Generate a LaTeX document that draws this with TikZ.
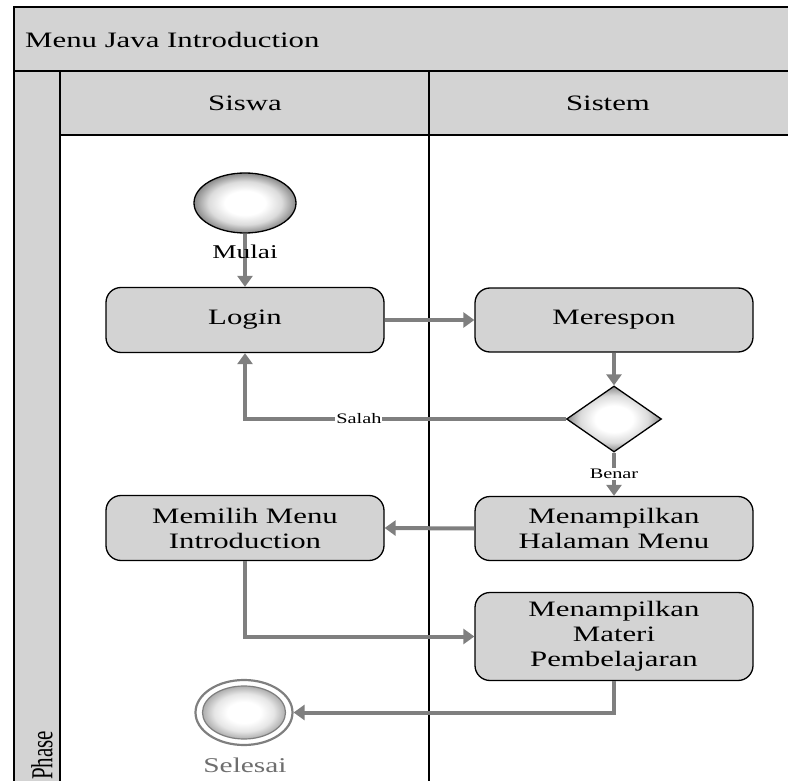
\documentclass[tikz,border=0pt]{standalone}
\usepackage{fontspec}
\setmainfont{Liberation Serif}[FakeStretch=1.4]
\newfontfamily\phasefont{Liberation Serif}
\usetikzlibrary{shapes.geometric,arrows.meta}
\definecolor{lanegray}{HTML}{D3D3D3}
\definecolor{flowgray}{HTML}{7F7F7F}
\definecolor{endtext}{HTML}{6E6E6E}
% soft ball fills: white core fading to grey at the rim
\pgfdeclareradialshading{ballshade}{\pgfpoint{0bp}{0bp}}{%
  color(0bp)=(white); color(10bp)=(white); color(18bp)=(black!14);
  color(25bp)=(black!46); color(50bp)=(black!46)}
\pgfdeclareradialshading{endshade}{\pgfpoint{0bp}{0bp}}{%
  color(0bp)=(white); color(10bp)=(white); color(18bp)=(black!10);
  color(25bp)=(black!32); color(50bp)=(black!32)}
\tikzset{
  lane/.style={draw=black,line width=1.4pt},
  hdr/.style={font=\fontsize{22}{25}\selectfont,inner sep=0pt},
  actbox/.style={rectangle,rounded corners=15pt,draw=black,line width=1.3pt,
    fill=lanegray,minimum width=278pt,align=center,inner sep=0pt,
    font=\fontsize{22}{25}\selectfont},
  flow/.style={draw=flowgray,line width=4pt,-{Triangle[length=11pt,width=15pt]}},
  lbl/.style={font=\fontsize{14.5}{16}\selectfont,fill=white,inner sep=1pt},
  startnode/.style={ellipse,draw=black,line width=1.3pt,shading=ballshade,
    minimum width=102pt,minimum height=60pt},
  decision/.style={diamond,draw=black,line width=1.3pt,shading=ballshade,
    minimum width=95pt,minimum height=66pt,inner sep=0pt},
}
\begin{document}
\begin{tikzpicture}[x=1pt,y=-1pt]
  \useasboundingbox (0,0) rectangle (788,781);
  \clip (0,0) rectangle (788,781);

  % swimlane frame
  \fill[lanegray] (14,7) rectangle (800,135);
  \fill[lanegray] (14,71) rectangle (60,800);
  \draw[lane] (14,800) -- (14,7) -- (800,7);
  \draw[lane] (14,71) -- (800,71);
  \draw[lane] (60,71) -- (60,800);
  \draw[lane] (60,135) -- (800,135);
  \draw[lane] (429,71) -- (429,800);

  \node[hdr,anchor=west] (title) at (25,40) {Menu Java Introduction};
  \node[hdr] (siswa) at (245,103) {Siswa};
  \node[hdr] (sistem) at (608,103) {Sistem};
  \node[rotate=90,anchor=west,inner sep=0pt] (phase) at (42,780)
    {\scalebox{1}[1.45]{\phasefont\fontsize{21}{21}\selectfont Phase}};

  % activities
  \node[startnode] (start) at (245,203) {};
  \node[actbox,minimum height=65pt] (login) at (245,320) {Login};
  \node[actbox,minimum height=64pt] (merespon) at (614,320) {Merespon};
  \node[decision] (dec) at (614,419) {};
  \node[actbox,minimum height=64pt] (halaman) at (614,528.5) {Menampilkan\\Halaman Menu};
  \node[actbox,minimum height=65pt] (memilih) at (245,528) {Memilih Menu\\Introduction};
  \node[actbox,minimum height=88pt] (materi) at (614,636.5) {Menampilkan\\Materi\\Pembelajaran};

  % final state
  \node[ellipse,draw=flowgray,line width=2.2pt,fill=white,
        minimum width=97pt,minimum height=65pt] (end) at (244,712.5) {};
  \node[ellipse,draw=flowgray,line width=1.2pt,shading=endshade,
        minimum width=83pt,minimum height=53pt] (endin) at (244,712.5) {};

  % control flow
  \draw[flow] (start.south) -- (login.north);
  \node[font=\fontsize{19.5}{20}\selectfont,inner sep=0pt] (mulai) at (245,252) {Mulai};
  \draw[flow] (login.east) -- (merespon.west);
  \draw[flow] (merespon.south) -- (dec.north);
  \draw[flow] (dec.west) -- node[pos=0.645,lbl] {Salah} (dec.west -| login.south) -- (login.south);
  \draw[flow] (dec.south) -- node[lbl] {Benar} (halaman.north);
  \draw[flow] (halaman.west) -- (memilih.east);
  \draw[flow] (memilih.south) |- (materi.west);
  \draw[flow] (materi.south) |- (end.east);
  \node[font=\fontsize{21}{22}\selectfont,text=endtext,inner sep=0pt] (selesai) at (245,765) {Selesai};
\end{tikzpicture}
\end{document}
